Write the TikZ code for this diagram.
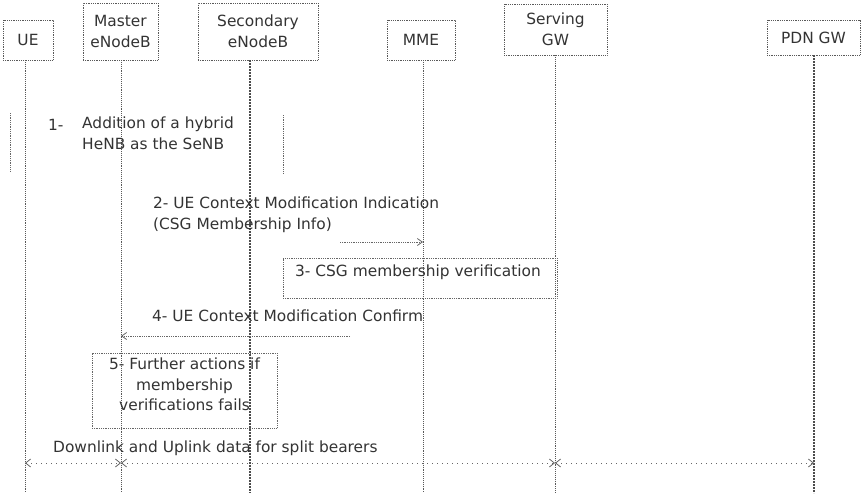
\documentclass[tikz,border=0pt]{standalone}
\usepackage{fontspec}
\setmainfont{DejaVu Sans}
\usetikzlibrary{arrows.meta}
\begin{document}
\begin{tikzpicture}[x=1pt,y=-1pt,
  font=\fontsize{15.4}{20.5}\selectfont,
  txt/.style={text=black!80, inner sep=0pt},
  hdr/.style={draw=black!65, densely dotted, line width=0.8pt, text=black!80, align=center, inner sep=0pt},
  life/.style={draw=black!65, densely dotted, line width=0.9pt},
  lifeb/.style={draw=black!70, dash pattern=on 2pt off 1pt, line width=1.1pt},
  frame/.style={draw=black!60, densely dotted, line width=0.8pt},
  msg/.style={draw=black!60, densely dotted, line width=0.8pt, -{Straight Barb[length=5pt,width=7pt]}},
  data/.style={draw=black!60, dash pattern=on 1pt off 4pt, line width=0.8pt, {Straight Barb[length=5pt,width=8pt]}-{Straight Barb[length=5pt,width=8pt]}}]
\useasboundingbox (0,0) rectangle (865,493);
% headers
\node[hdr, minimum width=50, minimum height=40] (ue) at (28,40) {UE};
\node[hdr, minimum width=75, minimum height=57] (men) at (120.5,31.5) {Master\\eNodeB};
\node[hdr, minimum width=120, minimum height=57] (sen) at (258,31.5) {Secondary\\eNodeB};
\node[hdr, minimum width=68, minimum height=40] (mme) at (421,40) {MME};
\node[hdr, minimum width=103, minimum height=51] (sgw) at (555.5,29.5) {Serving\\GW};
\node[hdr, minimum width=93, minimum height=35] (pgw) at (813.5,37.5) {PDN GW};
% lifelines
\coordinate (ueT) at (25,60);   \coordinate (ueB) at (25,493);
\coordinate (menT) at (121,60); \coordinate (menB) at (121,493);
\coordinate (senT) at (250,60); \coordinate (senB) at (250,493);
\coordinate (mmeT) at (423,60); \coordinate (mmeB) at (423,493);
\coordinate (sgwT) at (555,55); \coordinate (sgwB) at (555,493);
\coordinate (pgwT) at (814,55); \coordinate (pgwB) at (814,493);
\draw[life] (ueT) -- (ueB);
\draw[life] (menT) -- (menB);
\draw[lifeb] (senT) -- (senB);
\draw[life] (mmeT) -- (mmeB);
\draw[life] (sgwT) -- (sgwB);
\draw[lifeb] (pgwT) -- (pgwB);
% step 1
\coordinate (f1a) at (10,113); \coordinate (f1b) at (10,172);
\coordinate (f1c) at (283,115); \coordinate (f1d) at (283,173);
\draw[frame] (f1a) -- (f1b);
\draw[frame] (f1c) -- (f1d);
\node[txt, anchor=west] (s1n) at (48,125) {1-};
\node[txt, anchor=north west, align=left] (s1) at (82,117) {Addition of a hybrid\\HeNB as the SeNB};
% step 2
\node[txt, anchor=north west, align=left] (s2) at (153,197) {2- UE Context Modification Indication\\(CSG Membership Info)};
\coordinate (m2a) at (340,242); \coordinate (m2b) at (423,242);
\draw[msg] (m2a) -- (m2b);
% step 3
\node[frame, minimum width=274, minimum height=40] (s3box) at (420,278) {};
\node[txt, anchor=west] (s3) at (295,272) {3- CSG membership verification};
% step 4
\node[txt, anchor=west] (s4) at (152,316) {4- UE Context Modification Confirm};
\coordinate (m4a) at (350,336); \coordinate (m4b) at (121,336);
\draw[msg] (m4a) -- (m4b);
% step 5
\node[frame, minimum width=185, minimum height=75, inner sep=0pt] (s5box) at (184.5,390.5) {};
\node[txt, align=center, anchor=north] (s5) at (184.5,358) {5- Further actions if\\membership\\verifications fails};
% data
\node[txt, anchor=west] (dl) at (53,448) {Downlink and Uplink data for split bearers};
\coordinate (d1) at (25,463); \coordinate (d2) at (121,463);
\coordinate (d3) at (555,463); \coordinate (d4) at (814,463);
\draw[data] (d1) -- (d2);
\draw[data] (d2) -- (d3);
\draw[data] (d3) -- (d4);
\end{tikzpicture}
\end{document}
